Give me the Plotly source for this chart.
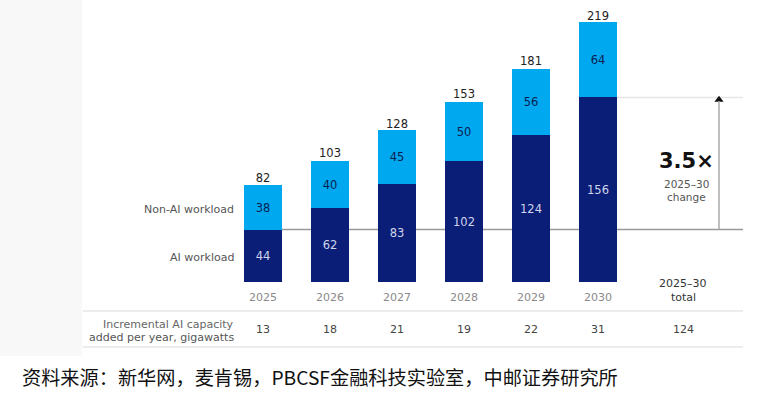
import plotly.graph_objects as go

years = ["2025", "2026", "2027", "2028", "2029", "2030"]
ai_workload = [44, 62, 83, 102, 124, 156]
non_ai_workload = [38, 40, 45, 50, 56, 64]
totals = [82, 103, 128, 153, 181, 219]
increments = ["13", "18", "21", "19", "22", "31"]
increment_total = "124"
change_label = "3.5×"

W, H = 777, 398
X0, DX = 263, 67          # pixel centre of first bar, spacing
Y0, SY = 281.5, 1.18      # pixel baseline, px per unit

def px(x):
    return x / W

def py(y):
    return 1 - y / H

DARK = "#0A1E78"
LIGHT = "#00A8F0"
FONT = "DejaVu Sans, Verdana, sans-serif"

xi = list(range(len(years)))

fig = go.Figure()
fig.add_trace(go.Bar(
    x=xi, y=ai_workload, marker_color=DARK, width=0.57,
    text=[str(v) for v in ai_workload], textposition="inside",
    insidetextanchor="middle", textangle=0,
    textfont=dict(color="#D0D5EA", size=11.5, family=FONT),
    marker_line_width=0, hoverinfo="skip"))
fig.add_trace(go.Bar(
    x=xi, y=non_ai_workload, marker_color=LIGHT, width=0.57,
    text=[str(v) for v in non_ai_workload], textposition="inside",
    insidetextanchor="middle", textangle=0,
    textfont=dict(color="#0A1E50", size=11.5, family=FONT),
    marker_line_width=0, hoverinfo="skip"))
fig.add_trace(go.Scatter(
    x=xi, y=totals, mode="text", text=[str(v) for v in totals],
    textposition="top center",
    textfont=dict(color="#222", size=11.5, family=FONT), hoverinfo="skip"))

# arrow head for the 3.5x arrow
arrow_x = (719 - X0) / DX
fig.add_trace(go.Scatter(
    x=[arrow_x], y=[ai_workload[-1] - 2], mode="markers",
    marker=dict(symbol="triangle-up", size=8, color="#111"), hoverinfo="skip"))

shapes = [
    dict(type="rect", xref="paper", yref="paper", x0=0, x1=px(82), y0=py(356), y1=1,
         fillcolor="#f8f8f8", line_width=0, layer="below"),
    dict(type="line", xref="x", yref="y", x0=0.28, x1=(743 - X0) / DX,
         y0=ai_workload[0], y1=ai_workload[0], line=dict(color="#999", width=1.5), layer="below"),
    dict(type="line", xref="x", yref="y", x0=5.28, x1=(743 - X0) / DX,
         y0=ai_workload[-1], y1=ai_workload[-1], line=dict(color="#e6e6e6", width=1.5), layer="below"),
    dict(type="line", xref="x", yref="y", x0=arrow_x, x1=arrow_x,
         y0=ai_workload[0], y1=ai_workload[-1] - 3, line=dict(color="#aaa", width=1.5)),
    dict(type="line", xref="paper", yref="paper", x0=px(83), x1=px(743),
         y0=py(311), y1=py(311), line=dict(color="#d9d9d9", width=1.2)),
    dict(type="line", xref="paper", yref="paper", x0=px(83), x1=px(743),
         y0=py(347), y1=py(347), line=dict(color="#d9d9d9", width=1.2)),
]

ann = []
def txt(x, y, s, size=11, color="#555", anchor="center", bold=False, family=FONT):
    ann.append(dict(x=px(x), y=py(y), xref="paper", yref="paper", text=("<b>%s</b>" % s) if bold else s,
                    showarrow=False, xanchor=anchor, yanchor="middle",
                    font=dict(size=size, color=color, family=family)))

for i, yr in enumerate(years):
    txt(X0 + DX * i, 297, yr, size=11, color="#8a8a8a")
    txt(X0 + DX * i, 329, increments[i], size=11, color="#444")
txt(683, 329, increment_total, size=11, color="#444")
txt(683, 283, "2025–30", size=11, color="#333")
txt(683, 297, "total", size=11, color="#333")
txt(686, 161, change_label, size=21, color="#111", bold=True)
txt(686, 184, "2025–30", size=10.5, color="#555")
txt(686, 197, "change", size=10.5, color="#555")
txt(236, 210, "Non-AI workload", size=11, color="#555", anchor="right")
txt(236, 257, "AI workload", size=11, color="#555", anchor="right")
txt(236, 324, "Incremental AI capacity", size=11, color="#666", anchor="right")
txt(236, 337, "added per year, gigawatts", size=11, color="#555", anchor="right")
txt(20, 377, "资料来源：新华网，麦肯锡，PBCSF金融科技实验室，中邮证券研究所", size=19.2,
    color="#111", anchor="left", family="Noto Sans CJK SC")

fig.update_layout(
    width=W, height=H, margin=dict(l=0, r=0, t=0, b=0),
    paper_bgcolor="white", plot_bgcolor="rgba(0,0,0,0)",
    barmode="stack", bargap=0, showlegend=False,
    xaxis=dict(range=[-X0 / DX, (W - X0) / DX], visible=False, fixedrange=True),
    yaxis=dict(range=[-(H - Y0) / SY, Y0 / SY], visible=False, fixedrange=True),
    shapes=shapes, annotations=ann,
)
fig.write_html("out.html", config={"displayModeBar": False},
               post_script="document.body.style.margin='0';document.body.style.overflow='hidden';")
